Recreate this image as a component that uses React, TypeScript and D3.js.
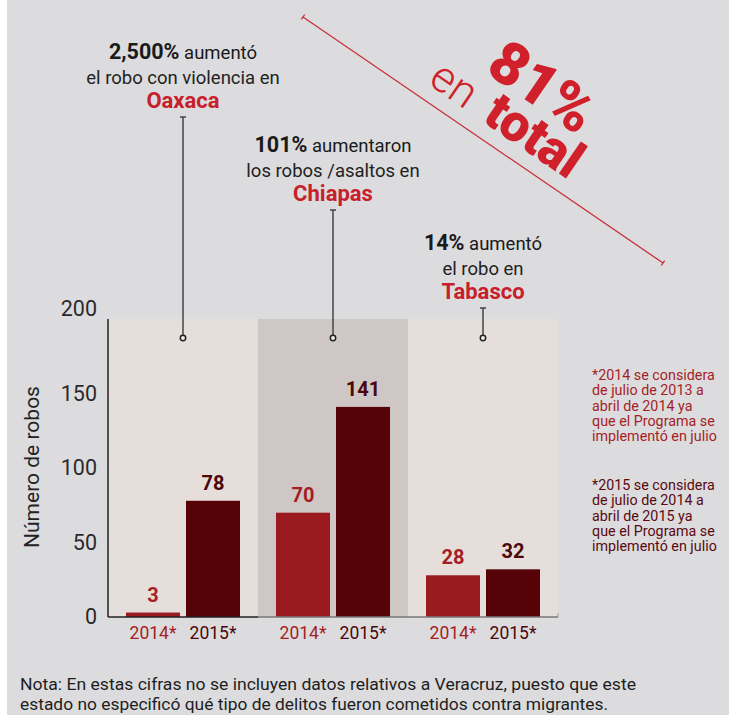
import React from "react";
import * as d3 from "d3";

const states = ["Oaxaca", "Chiapas", "Tabasco"];
const years = ["2014*", "2015*"];
const values2014 = [3, 70, 28];
const values2015 = [78, 141, 32];
const yTicks = [0, 50, 100, 150, 200];
const pctLabels = ["2,500%", "101%", "14%"];
const verbLabels = [" aumentó", " aumentaron", " aumentó"];
const line2Labels = ["el robo con violencia en", "los robos /asaltos en", "el robo en"];
const note2014 = [
  "*2014 se considera",
  "de julio de 2013 a",
  "abril de 2014 ya",
  "que el Programa se",
  "implementó en julio",
];
const note2015 = [
  "*2015 se considera",
  "de julio de 2014 a",
  "abril de 2015 ya",
  "que el Programa se",
  "implementó en julio",
];
const footer = [
  "Nota: En estas cifras no se incluyen datos relativos a Veracruz, puesto que este",
  "estado no especificó qué tipo de delitos fueron cometidos contra migrantes.",
];
const footerWidths = [616, 588];

const W = 729;
const H = 715;
const FONT = "Roboto, 'Noto Sans', sans-serif";
const BG = "#dcdcde";
const RED = "#a51e26";
const BRIGHT_RED = "#c8202b";
const BAR14 = "#9a1a1f";
const BAR15 = "#560307";

export default function App() {
  const y = d3.scaleLinear().domain([0, 200]).range([617, 319]);
  const x0 = d3.scaleBand<string>().domain(states).range([108, 558]).padding(0);
  const x1 = d3
    .scaleBand<string>()
    .domain(years)
    .range([0, x0.bandwidth()])
    .paddingInner(0.1)
    .paddingOuter(0.3);
  const annTops = [59, 152, 250];
  const panelFill = ["#e6dedb", "#cec7c5", "#e6dedb"];

  const lineLen = Math.hypot(360, 246);
  const angle = (Math.atan2(246, 360) * 180) / Math.PI;

  return (
    <svg
      width={W}
      height={H}
      style={{ position: "fixed", left: 0, top: 0, fontFamily: FONT }}
    >
      <rect x={0} y={0} width={W} height={H} fill="#ffffff" />
      <rect x={7} y={0} width={W - 7} height={H} fill={BG} />

      {/* panels */}
      {states.map((s, i) => (
        <rect
          key={s}
          x={x0(s)}
          y={y(200)}
          width={x0.bandwidth()}
          height={y(0) - y(200)}
          fill={panelFill[i]}
        />
      ))}

      {/* bars */}
      {states.map((s, i) => {
        const vals = [values2014[i], values2015[i]];
        return (
          <g key={s} transform={`translate(${x0(s)},0)`}>
            {years.map((yr, j) => {
              const bx = x1(yr)!;
              const v = vals[j];
              return (
                <g key={yr}>
                  <rect
                    x={bx}
                    y={y(v)}
                    width={x1.bandwidth()}
                    height={y(0) - y(v)}
                    fill={j === 0 ? BAR14 : BAR15}
                  />
                  <text
                    x={bx + x1.bandwidth() / 2}
                    y={y(v) - 11}
                    textAnchor="middle"
                    fontSize={20}
                    fontWeight={700}
                    fill={j === 0 ? RED : "#4a080c"}
                  >
                    {v}
                  </text>
                  <text
                    x={bx + x1.bandwidth() / 2}
                    y={639}
                    textAnchor="middle"
                    fontSize={17.5}
                    fill={j === 0 ? RED : "#4a080c"}
                  >
                    {yr}
                  </text>
                </g>
              );
            })}
          </g>
        );
      })}

      {/* axes */}
      <line x1={108} x2={108} y1={y(200)} y2={y(0)} stroke="#222" strokeWidth={1.5} />
      <line x1={108} x2={x0("Chiapas")} y1={y(0)} y2={y(0)} stroke="#222" strokeWidth={1.5} />
      <line x1={x0("Chiapas")} x2={558} y1={y(0)} y2={y(0)} stroke="#777" strokeWidth={1.5} />
      <line x1={558} x2={558} y1={y(0) - 4} y2={y(0)} stroke="#999" strokeWidth={1} />
      {yTicks.map((t, i) => (
        <text
          key={t}
          x={97}
          y={y(t) + 7 - (i === yTicks.length - 1 ? 10 : 0)}
          textAnchor="end"
          fontSize={21.5}
          fill="#2a2a2a"
        >
          {t}
        </text>
      ))}
      <text
        transform="translate(39,467) rotate(-90)"
        textAnchor="middle"
        fontSize={21}
        fill="#222"
      >
        Número de robos
      </text>

      {/* annotations */}
      {states.map((s, i) => {
        const cx = x0(s)! + x0.bandwidth() / 2;
        const top = annTops[i];
        return (
          <g key={s}>
            <text x={cx} y={top} textAnchor="middle" fill="#1a1a1a">
              <tspan fontSize={21.5} fontWeight={700}>
                {pctLabels[i]}
              </tspan>
              <tspan fontSize={18.5}>{verbLabels[i]}</tspan>
            </text>
            <text x={cx} y={top + 25} textAnchor="middle" fontSize={18.5} fill="#222">
              {line2Labels[i]}
            </text>
            <text
              x={cx}
              y={top + 49}
              textAnchor="middle"
              fontSize={22}
              fontWeight={700}
              fill={BRIGHT_RED}
            >
              {s}
            </text>
            <line x1={cx} x2={cx} y1={top + 58} y2={335} stroke="#444" strokeWidth={1.5} />
            <line x1={cx - 3} x2={cx + 3} y1={top + 58} y2={top + 58} stroke="#444" strokeWidth={1.5} />
            <circle cx={cx} cy={338} r={2.7} fill="#eee" stroke="#222" strokeWidth={1.5} />
          </g>
        );
      })}

      {/* 81% en total */}
      <g transform={`translate(303,17) rotate(${angle})`}>
        <line x1={0} x2={lineLen} y1={0} y2={0} stroke="#c8303a" strokeWidth={1.3} />
        <line x1={0} x2={0} y1={-3} y2={3} stroke="#c8303a" strokeWidth={1.3} />
        <line x1={lineLen} x2={lineLen} y1={-3} y2={3} stroke="#c8303a" strokeWidth={1.3} />
        <text x={237} y={-57} textAnchor="middle" fontSize={60} fontWeight={900} fill="#d0202b">
          81%
        </text>
        <text x={163} y={-15} textAnchor="middle" fontSize={44} fontWeight={300} fill="#d0202b">
          en
        </text>
        <text x={258} y={-15} textAnchor="middle" fontSize={52} fontWeight={900} fill="#d0202b">
          total
        </text>
      </g>

      {/* notes */}
      {note2014.map((t, i) => (
        <text key={"a" + i} x={592} y={380 + i * 15.3} fontSize={14.3} fill={RED}>
          {t}
        </text>
      ))}
      {note2015.map((t, i) => (
        <text key={"b" + i} x={592} y={490 + i * 15.3} fontSize={14.3} fill="#5a0a10">
          {t}
        </text>
      ))}

      {/* footer */}
      {footer.map((t, i) => (
        <text
          key={i}
          x={20}
          y={690 + i * 20}
          fontSize={16.5}
          fill="#1e1e1e"
          textLength={footerWidths[i]}
          lengthAdjust="spacingAndGlyphs"
        >
          {t}
        </text>
      ))}
    </svg>
  );
}
